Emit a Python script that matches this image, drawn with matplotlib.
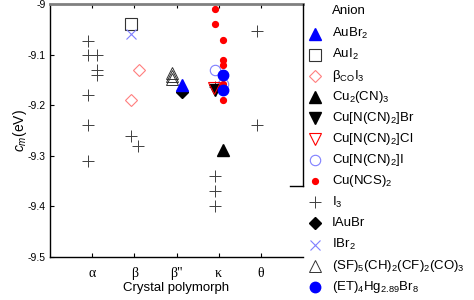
import matplotlib
matplotlib.use("Agg")
import matplotlib.pyplot as plt
from matplotlib.lines import Line2D

plt.rcParams['font.family'] = ['Liberation Sans', 'DejaVu Sans']
plt.rcParams['mathtext.fontset'] = 'custom'
plt.rcParams['mathtext.rm'] = 'Liberation Sans'
plt.rcParams['mathtext.it'] = 'Liberation Sans:italic'

categories = ['α', 'β', 'β"', 'κ', 'θ']

# series: label, x (category position incl. jitter), y (c_m in eV)
aubr2_x, aubr2_y = [3.12], [-9.161]
aui2_x, aui2_y = [1.92], [-9.04]
bco_x, bco_y = [2.12, 1.91], [-9.13, -9.19]
cu2cn3_x, cu2cn3_y = [4.1], [-9.289]
cubr_x, cubr_y = [3.91], [-9.17]
cucl_x, cucl_y = [3.88], [-9.166]
cui_x, cui_y = [3.91, 4.1], [-9.13, -9.158]
ncs_x = [3.91, 3.91, 4.1, 4.1, 4.1, 4.1, 4.1]
ncs_y = [-9.01, -9.04, -9.071, -9.11, -9.12, -9.158, -9.19]
i3_x = [0.9, 0.9, 1.11, 1.11, 1.11, 0.9, 0.9, 0.9, 1.91, 2.09, 3.91, 3.91, 3.91, 3.91, 4.9, 4.9]
i3_y = [-9.073, -9.1, -9.1, -9.13, -9.14, -9.18, -9.24, -9.31, -9.26, -9.28,
        -9.165, -9.34, -9.369, -9.399, -9.053, -9.24]
iaubr_x, iaubr_y = [3.12], [-9.173]
ibr2_x, ibr2_y = [1.92], [-9.06]
sf_x, sf_y = [2.89, 2.89, 2.89], [-9.136, -9.142, -9.148]
et_x, et_y = [4.1, 4.1], [-9.14, -9.17]

labels = ['AuBr$_2$', 'AuI$_2$', 'β$_{\\rm CO}$I$_3$', 'Cu$_2$(CN)$_3$',
          'Cu[N(CN)$_2$]Br', 'Cu[N(CN)$_2$]Cl', 'Cu[N(CN)$_2$]I', 'Cu(NCS)$_2$',
          'I$_3$', 'IAuBr', 'IBr$_2$', '(SF)$_5$(CH)$_2$(CF)$_2$(CO)$_3$',
          '(ET)$_4$Hg$_{2.89}$Br$_8$']

blue = '#0000ff'
lblue = '#7f7fff'
red = '#ff0000'
lred = '#ff7f7f'
styles = [
    dict(marker='^', color=blue, mfc=blue, ms=8.5, z=6),
    dict(marker='s', color='#333333', mfc='none', ms=8.5, z=3, mew=0.8),
    dict(marker='D', color=lred, mfc='none', ms=6.5, z=3, mew=0.8),
    dict(marker='^', color='black', mfc='black', ms=8.5, z=3),
    dict(marker='v', color='black', mfc='black', ms=8.5, z=4),
    dict(marker='v', color=red, mfc='none', ms=8.5, z=5, mew=0.8),
    dict(marker='o', color=lblue, mfc='none', ms=7.5, z=3, mew=0.8),
    dict(marker='o', color=red, mfc=red, ms=4.2, z=4),
    dict(marker='+', color='#404040', mfc='none', ms=9, z=2, mew=0.7),
    dict(marker='D', color='black', mfc='black', ms=6, z=5),
    dict(marker='x', color=lblue, mfc='none', ms=7, z=3, mew=0.8),
    dict(marker='^', color='#333333', mfc='none', ms=8.5, z=3, mew=0.7),
    dict(marker='o', color=blue, mfc=blue, ms=7.5, z=7),
]
data = [(aubr2_x, aubr2_y), (aui2_x, aui2_y), (bco_x, bco_y), (cu2cn3_x, cu2cn3_y),
        (cubr_x, cubr_y), (cucl_x, cucl_y), (cui_x, cui_y), (ncs_x, ncs_y),
        (i3_x, i3_y), (iaubr_x, iaubr_y), (ibr2_x, ibr2_y), (sf_x, sf_y), (et_x, et_y)]

fig = plt.figure(figsize=(4.74, 3.0), dpi=100)
ax = fig.add_axes([50 / 474, 43 / 300, 253 / 474, 253 / 300])

for (xs, ys), st in zip(data, styles):
    ax.plot(xs, ys, linestyle='none', marker=st['marker'], color=st['color'],
            mfc=st['mfc'], mec=st['color'], ms=st['ms'], mew=st.get('mew', 1.0),
            zorder=st['z'])

ax.set_xlim(0, 6)
ax.set_ylim(-9.5, -9)
ax.set_xticks(range(1, len(categories) + 1))
ax.set_xticklabels(categories, family='Liberation Serif', fontsize=10)
yt = [-9.5, -9.4, -9.3, -9.2, -9.1, -9.0]
ax.set_yticks(yt)
ax.set_yticklabels(['-9.5', '-9.4', '-9.3', '-9.2', '-9.1', '-9'], fontsize=7.5)
ax.tick_params(direction='in', length=3, width=0.8, top=True, right=False,
               pad=7)
ax.tick_params(axis='y', pad=3)
ax.spines['top'].set_color('#808080')
ax.spines['top'].set_linewidth(2)
ax.spines['right'].set_visible(False)
for s in ['left', 'bottom']:
    ax.spines[s].set_linewidth(1.0)
ax.set_xlabel('Crystal polymorph', fontsize=9.5, labelpad=2)
ax.set_ylabel('$c_m$(eV)', fontsize=10, labelpad=-1)

# partial right frame line
fig.add_artist(Line2D([303 / 474, 303 / 474], [1 - 4 / 300, 1 - 186 / 300],
                      transform=fig.transFigure, color='black', lw=1.0))
fig.add_artist(Line2D([290 / 474, 303 / 474], [1 - 186 / 300, 1 - 186 / 300],
                      transform=fig.transFigure, color='black', lw=1.0))

# legend
fig.text(332 / 474, 1 - 11 / 300, 'Anion', fontsize=9.5, va='center', ha='left')
y0, dy = 33.5, 21.1
for i, (lab, st) in enumerate(zip(labels, styles)):
    yp = 1 - (y0 + i * dy) / 300
    fig.add_artist(Line2D([315 / 474], [yp], transform=fig.transFigure,
                          linestyle='none', marker=st['marker'], color=st['color'],
                          mfc=st['mfc'], mec=st['color'], ms=st['ms'],
                          mew=st.get('mew', 1.0)))
    fig.text(332 / 474, yp, lab, fontsize=9.5, va='center', ha='left')

fig.savefig('out.png', dpi=100)
